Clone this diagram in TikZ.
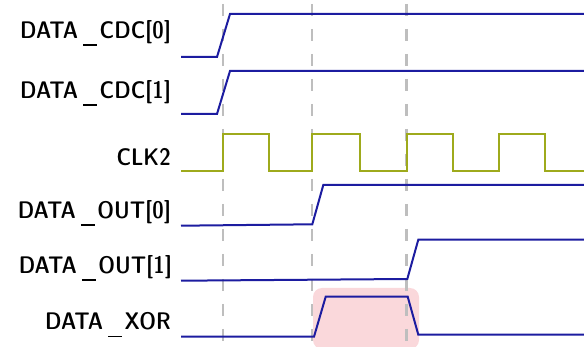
\documentclass[tikz,border=0pt]{standalone}
\usetikzlibrary{calc}
\definecolor{sigblue}{RGB}{28,28,160}
\definecolor{clkolive}{RGB}{158,170,28}
\definecolor{guidegray}{RGB}{190,190,190}
\definecolor{hlpink}{RGB}{250,216,219}
\newcommand\uscore{\kern5pt\rule[-7.5pt]{14pt}{1.7pt}\kern2.5pt}
\tikzset{
  lbl/.style={anchor=east,inner sep=0pt,font=\sffamily\fontseries{sbc}\fontsize{24}{26}\selectfont},
  sig/.style={draw=sigblue,line width=2pt,line join=miter},
  clk/.style={draw=clkolive,line width=2pt},
  guide/.style={draw=guidegray,line width=2.6pt,dash pattern=on 12pt off 13pt,dash phase=-4pt},
  hl/.style={fill=hlpink,rounded corners=9pt},
}
\begin{document}
\begin{tikzpicture}[x=1pt,y=-1pt]
\useasboundingbox (0,0) rectangle (584,347);
% highlight
\fill[hl] (313,288) rectangle (419,349);
% guide lines
\coordinate (g1t) at (223,0); \coordinate (g1b) at (223,347);
\coordinate (g2t) at (312,0); \coordinate (g2b) at (312,347);
\coordinate (g3t) at (406.5,0); \coordinate (g3b) at (406.5,347);
\draw[guide] (g1t) -- (g1b);
\draw[guide] (g2t) -- (g2b);
\draw[guide] (g3t) -- (g3b);
% labels
\node[lbl] (l0) at (171,33) {DATA\uscore CDC[0]};
\node[lbl] (l1) at (171,93) {DATA\uscore CDC[1]};
\node[lbl] (l2) at (171,157) {CLK2};
\node[lbl] (l3) at (171,213) {DATA\uscore OUT[0]};
\node[lbl] (l4) at (172,268) {DATA\uscore OUT[1]};
\node[lbl] (l5) at (171,325) {DATA\uscore XOR};
% signals
\draw[sig] (181,57) -- (217,57) -- (230,14) -- (584,14);
\draw[sig] (181,114) -- (217,114) -- (230,71) -- (584,71);
\draw[clk] (181,171.5) -- (223.3,171.5) -- (223.3,134) -- (269,134) -- (269,171.5)
  -- (312.3,171.5) -- (312.3,134) -- (360,134) -- (360,171.5)
  -- (406.7,171.5) -- (406.7,134) -- (452.7,134) -- (452.7,171.5)
  -- (499,171.5) -- (499,134) -- (545,134) -- (545,171.5) -- (584,171.5);
\draw[sig] (181,225.7) -- (312.3,224.3) -- (323.3,185) -- (584,185);
\draw[sig] (181,280.7) -- (407.3,279) -- (418.3,239.7) -- (584,239.7);
\draw[sig] (181,336.7) -- (314,336.7) -- (325.7,296.7) -- (407.7,296.7) -- (418.3,334.7) -- (584,334.7);
\end{tikzpicture}
\end{document}
